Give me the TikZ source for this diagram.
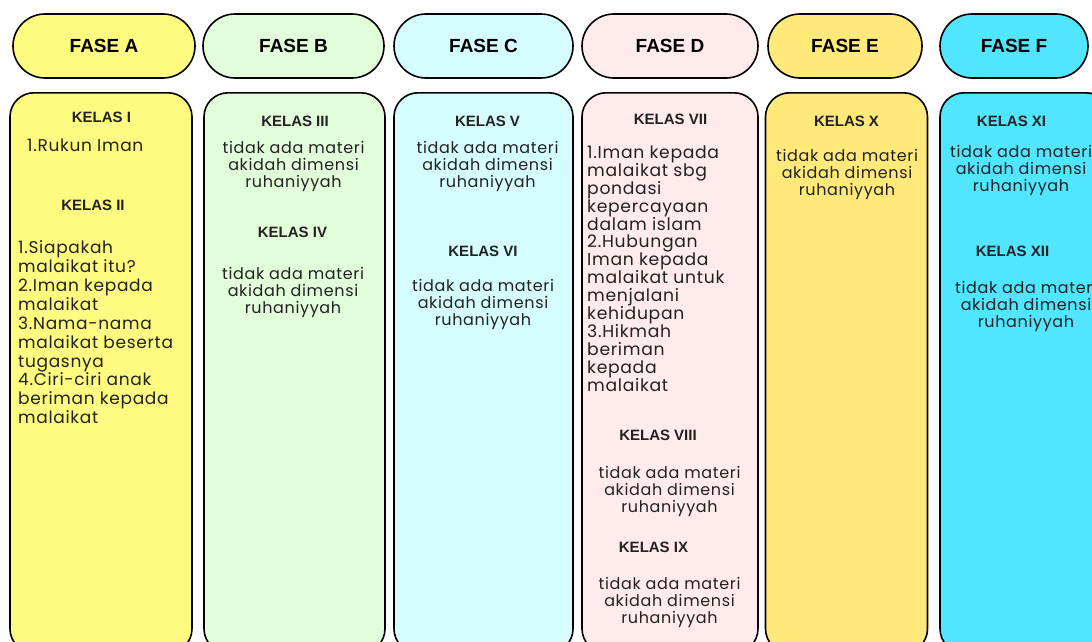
\documentclass[tikz,border=0pt]{standalone}
\usepackage{fontspec}
\setmainfont{Poppins}
\newfontfamily\hdfont{Liberation Sans}
\newfontfamily\bodyfont[LetterSpace=4]{Poppins}
\newcommand\tightlines{\lineskiplimit -20pt\relax}
\definecolor{cA}{HTML}{FFFB80}
\definecolor{cB}{HTML}{E2FDD9}
\definecolor{cC}{HTML}{D6FDFE}
\definecolor{cD}{HTML}{FFEBEB}
\definecolor{cE}{HTML}{FFE97B}
\definecolor{cF}{HTML}{52E5FF}
\definecolor{txt}{HTML}{222222}
\begin{document}
\begin{tikzpicture}[x=1pt,y=-1pt,
  pill/.style={draw=black,line width=1.6pt,rounded corners=32pt,minimum height=64pt,inner sep=0pt,
    font=\hdfont\bfseries\fontsize{19}{22}\selectfont},
  col/.style={draw=black,line width=1.6pt,rounded corners=24pt,minimum height=560pt,anchor=north,inner sep=0pt},
  kls/.style={font=\hdfont\bfseries\fontsize{15}{17}\selectfont,inner sep=0pt,text=txt},
  body/.style={font={\bodyfont\fontsize{16}{17}\selectfont\tightlines},align=center,inner sep=0pt,anchor=north,text=txt},
  lst/.style={font={\bodyfont\fontsize{17}{18.9}\selectfont\tightlines},align=left,inner sep=0pt,anchor=north west,text=txt},
  lstd/.style={font={\bodyfont\fontsize{17.2}{17.9}\selectfont\tightlines},align=left,inner sep=0pt,anchor=north west,text=txt},
]
\useasboundingbox (0,0) rectangle (1092,642);
\clip (0,0) rectangle (1092,642);
% header pills
\node[pill,fill=cA,minimum width=182pt] (fa) at (104,46) {FASE A};
\node[pill,fill=cB,minimum width=181pt] (fb) at (293.5,46) {FASE B};
\node[pill,fill=cC,minimum width=179pt] (fc) at (483.5,46) {FASE C};
\node[pill,fill=cD,minimum width=176pt] (fd) at (670,46) {FASE D};
\node[pill,fill=cE,minimum width=154pt] (fe) at (845,46) {FASE E};
\node[pill,fill=cF,minimum width=148pt] (ff) at (1014,46) {FASE F};
% columns
\node[col,fill=cA,minimum width=182pt] (ca) at (101,92) {};
\node[col,fill=cB,minimum width=181pt] (cb) at (294.5,92) {};
\node[col,fill=cC,minimum width=179pt] (cc) at (483.5,92) {};
\node[col,fill=cD,minimum width=176pt] (cd) at (670,92) {};
\node[col,fill=cE,minimum width=162pt] (ce) at (846.5,92) {};
\node[col,fill=cF,minimum width=170pt] (cf) at (1025,92) {};
% column A
\node[kls] (k1) at (101.5,117) {KELAS I};
\node[lst] (t1) at (27,138.5) {1.Rukun Iman};
\node[kls] (k2) at (93,205) {KELAS II};
\node[lst] (t2) at (18,240.5) {1.Siapakah\\malaikat itu?\\2.Iman kepada\\malaikat\\3.Nama-nama\\malaikat beserta\\tugasnya\\4.Ciri-ciri anak\\beriman kepada\\malaikat};
% column B
\node[kls] (k3) at (295,121) {KELAS III};
\node[body] (t3) at (293.5,141) {tidak ada materi\\akidah dimensi\\ruhaniyyah};
\node[kls] (k4) at (292.5,232) {KELAS IV};
\node[body] (t4) at (293,267) {tidak ada materi\\akidah dimensi\\ruhaniyyah};
% column C
\node[kls] (k5) at (487.5,121) {KELAS V};
\node[body] (t5) at (487.5,141) {tidak ada materi\\akidah dimensi\\ruhaniyyah};
\node[kls] (k6) at (483,251) {KELAS VI};
\node[body] (t6) at (483,279) {tidak ada materi\\akidah dimensi\\ruhaniyyah};
% column D
\node[kls] (k7) at (670.5,119) {KELAS VII};
\node[lstd] (t7) at (587,145.5) {1.Iman kepada\\malaikat sbg\\pondasi\\kepercayaan\\dalam islam\\2.Hubungan\\Iman kepada\\malaikat untuk\\menjalani\\kehidupan\\3.Hikmah\\beriman\\kepada\\malaikat};
\node[kls] (k8) at (658,435) {KELAS VIII};
\node[body] (t8) at (669.5,466) {tidak ada materi\\akidah dimensi\\ruhaniyyah};
\node[kls] (k9) at (653.5,547) {KELAS IX};
\node[body] (t9) at (669.5,577) {tidak ada materi\\akidah dimensi\\ruhaniyyah};
% column E
\node[kls] (k10) at (846.5,121) {KELAS X};
\node[body] (t10) at (847,149) {tidak ada materi\\akidah dimensi\\ruhaniyyah};
% column F
\node[kls] (k11) at (1011.5,121) {KELAS XI};
\node[body] (t11) at (1021,145) {tidak ada materi\\akidah dimensi\\ruhaniyyah};
\node[kls] (k12) at (1012.5,251) {KELAS XII};
\node[body] (t12) at (1026,281) {tidak ada materi\\akidah dimensi\\ruhaniyyah};
\end{tikzpicture}
\end{document}
